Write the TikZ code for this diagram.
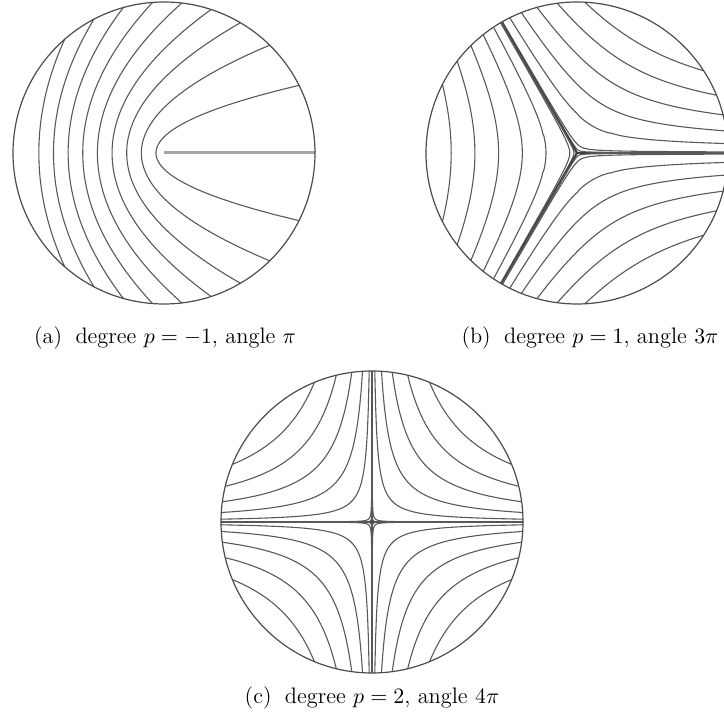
\documentclass[tikz,border=0pt]{standalone}
\usepackage{amsmath,amssymb}
\usepackage{xcolor}
\usepackage{tikz}

\begin{document}
\begin{tikzpicture}[x=0.5pt, y=0.5pt,
  rim/.style={draw=black!70, line width=0.6pt},
  flow/.style={draw=black!65, line width=0.55pt},
  sepa/.style={draw=black!75, line width=1.1pt},
  slit/.style={draw=black!35, line width=1.5pt},
  subcap/.style={inner sep=0pt, font=\fontsize{11.2}{13.5}\selectfont},
]
\useasboundingbox (0,0) rectangle (724,718);

\begin{scope}[shift={(164,565)}, scale=151]
  \draw[slit] (0,0) -- (1,0);
  \foreach \rb in {0.053,0.150,0.247,0.344,0.441,0.538,0.635,0.732,0.829} {
    \pgfmathsetmacro\cc{sqrt(\rb)}
    \pgfmathsetmacro\pmin{asin(\cc)}
    \pgfmathsetmacro\pmax{180-\pmin}
    \draw[flow] plot[domain=\pmin:\pmax, samples=120, variable=\t]
      ({pow(\cc/sin(\t),2)*cos(2*\t)}, {pow(\cc/sin(\t),2)*sin(2*\t)});
  }
  \draw[rim] (0,0) circle (1);
\end{scope}

\begin{scope}[shift={(577,565)}, scale=151]
  \foreach \a in {0,120,240} {
    \draw[sepa] (0,0) -- (\a:1);
    \foreach \rb in {0.02,0.048,0.205,0.362,0.519,0.676,0.833} {
      \pgfmathsetmacro\cc{pow(\rb,1.5)}
      \pgfmathsetmacro\pmin{asin(\cc)}
      \pgfmathsetmacro\pmax{180-\pmin}
      \draw[flow] plot[domain=\pmin:\pmax, samples=120, variable=\t]
        ({pow(\cc/sin(\t),2/3)*cos(2*\t/3+\a)}, {pow(\cc/sin(\t),2/3)*sin(2*\t/3+\a)});
    }
  }
  \draw[rim] (0,0) circle (1);
\end{scope}

\begin{scope}[shift={(372,196)}, scale=151]
  \draw[sepa] (-1,0) -- (1,0);
  \draw[sepa] (0,-1) -- (0,1);
  \foreach \a in {0,90,180,270} {
    \foreach \rb in {0.012,0.03,0.192,0.354,0.516,0.678,0.84} {
      \pgfmathsetmacro\cc{pow(\rb,2)}
      \pgfmathsetmacro\pmin{asin(\cc)}
      \pgfmathsetmacro\pmax{180-\pmin}
      \draw[flow] plot[domain=\pmin:\pmax, samples=120, variable=\t]
        ({sqrt(\cc/sin(\t))*cos(\t/2+\a)}, {sqrt(\cc/sin(\t))*sin(\t/2+\a)});
    }
  }
  \draw[rim] (0,0) circle (1);
\end{scope}

\node[subcap] (capa) at (165,380) {(a)\hspace{0.6em}degree $p=-1$, angle $\pi$};
\node[subcap] (capb) at (590,380) {(b)\hspace{0.6em}degree $p=1$, angle $3\pi$};
\node[subcap] (capc) at (372,20) {(c)\hspace{0.6em}degree $p=2$, angle $4\pi$};
\end{tikzpicture}
\end{document}
